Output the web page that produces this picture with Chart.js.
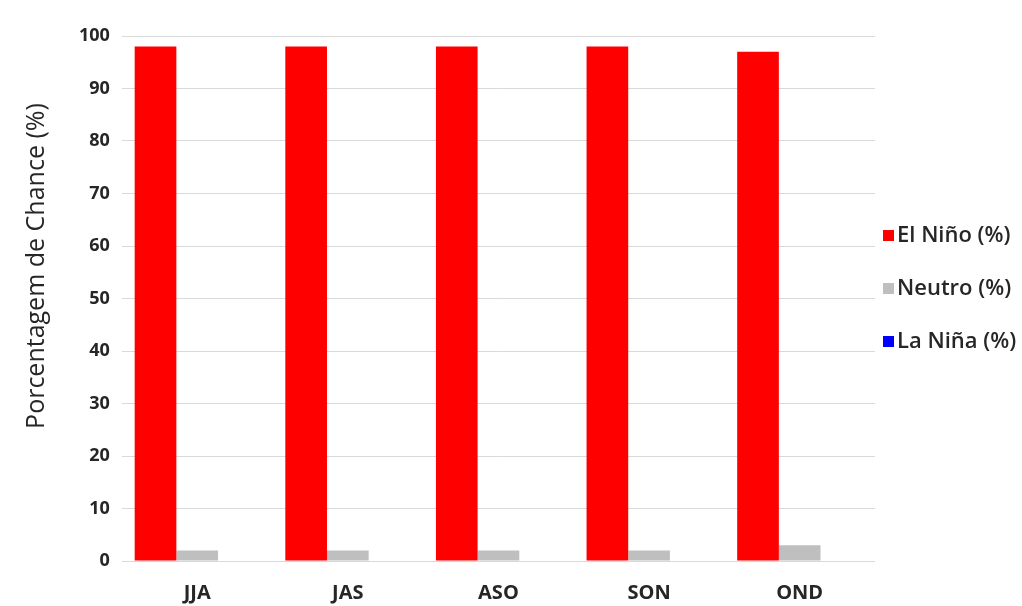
<!DOCTYPE html>
<html lang="pt">
<head>
  <meta charset="UTF-8">
  <script src="https://cdn.jsdelivr.net/npm/chart.js"></script>
  <title>Probabilidade ENOS</title>
  <style>
    body { margin: 0; background: #ffffff; }
    #wrap { position: relative; width: 1022px; height: 606px; }
  </style>
</head>
<body>
  <div id="wrap"><canvas id="chart"></canvas></div>
  <script>
    // trimestres e probabilidades (%)
    const seasons = ['JJA', 'JAS', 'ASO', 'SON', 'OND'];
    const elNino = [98, 98, 98, 98, 97];
    const neutro = [2, 2, 2, 2, 3];
    const laNina = [0, 0, 0, 0, 0];
    const yTicks = [0, 10, 20, 30, 40, 50, 60, 70, 80, 90, 100];

    const fontFamily = '"Open Sans", "Liberation Sans", sans-serif';
    const textColor = '#262626';

    // legenda lateral desenhada a partir dos datasets (caixa colada ao grafico)
    const sideLegend = {
      id: 'sideLegend',
      afterDraw(chart, args, opts) {
        const ctx = chart.ctx;
        const area = chart.chartArea;
        const sets = chart.data.datasets;
        const x = area.right + opts.gap;
        const midY = (area.top + area.bottom) / 2 + opts.shift;
        ctx.save();
        ctx.font = opts.font;
        ctx.textBaseline = 'middle';
        ctx.textAlign = 'left';
        sets.forEach((ds, i) => {
          const y = midY + (i - (sets.length - 1) / 2) * opts.spacing;
          ctx.fillStyle = ds.backgroundColor;
          ctx.fillRect(x, y - opts.box / 2, opts.box, opts.box);
          ctx.fillStyle = textColor;
          ctx.fillText(ds.label, x + opts.box + 3, y);
        });
        ctx.restore();
      }
    };

    new Chart(document.getElementById('chart'), {
      type: 'bar',
      data: {
        labels: seasons,
        datasets: [
          { label: 'El Niño (%)', data: elNino, backgroundColor: '#ff0000' },
          { label: 'Neutro (%)', data: neutro, backgroundColor: '#bfbfbf' },
          { label: 'La Niña (%)', data: laNina, backgroundColor: '#0000ff' }
        ]
      },
      plugins: [sideLegend],
      options: {
        responsive: true,
        maintainAspectRatio: false,
        animation: false,
        layout: { padding: { top: 36, left: 22, right: 147, bottom: -19 } },
        datasets: { bar: { categoryPercentage: 0.83, barPercentage: 1.0 } },
        plugins: {
          tooltip: { enabled: false },
          legend: { display: false },
          sideLegend: {
            gap: 8,
            shift: -10,
            spacing: 53,
            box: 11,
            font: '600 22px ' + fontFamily
          }
        },
        scales: {
          x: {
            grid: { display: false, drawTicks: false },
            border: { display: false },
            ticks: {
              padding: 20,
              color: textColor,
              font: { family: fontFamily, size: 20, weight: 'bold' }
            }
          },
          y: {
            min: 0,
            max: 100,
            afterBuildTicks: axis => { axis.ticks = yTicks.map(v => ({ value: v })); },
            grid: { color: '#d9d9d9', drawTicks: false },
            border: { display: false },
            ticks: {
              padding: 12,
              color: textColor,
              font: { family: fontFamily, size: 18, weight: 'bold' }
            },
            title: {
              display: true,
              text: '          Porcentagem de Chance (%)',
              color: textColor,
              padding: { top: 0, bottom: 15 },
              font: { family: fontFamily, size: 25, weight: 'normal' }
            }
          }
        }
      }
    });
  </script>
</body>
</html>
